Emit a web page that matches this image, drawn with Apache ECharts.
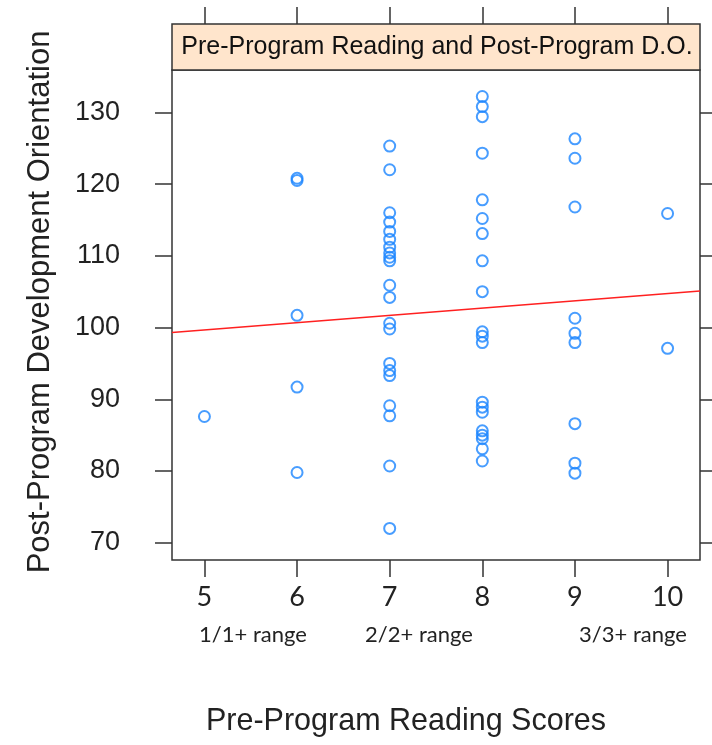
<!DOCTYPE html>
<html><head><meta charset="utf-8">
<script src="https://cdn.jsdelivr.net/npm/echarts@6/dist/echarts.min.js"></script>
<style>html,body{margin:0;padding:0;background:#fff}#c{width:712px;height:745px}</style>
</head><body><div id="c"></div>
<script>
// ---- data ----
const xTicks = [5, 6, 7, 8, 9, 10];
const yTicks = [70, 80, 90, 100, 110, 120, 130];
const preScores = [5, 6, 7, 8, 9, 10];
const post5 = [87.6];
const post6 = [120.5, 120.8, 101.7, 91.7, 79.8];
const post7 = [125.3, 122.0, 116.0, 114.7, 113.4, 112.3, 111.2, 110.4, 109.8, 109.3, 105.9, 104.2, 100.6, 99.8, 95.0, 94.0, 93.3, 89.1, 87.7, 80.7, 72.0];
const post8 = [132.2, 130.8, 129.4, 124.3, 117.8, 115.2, 113.1, 109.3, 105.0, 99.4, 98.8, 97.9, 89.6, 88.9, 88.2, 85.6, 85.0, 84.5, 83.1, 81.4];
const post9 = [126.3, 123.6, 116.8, 101.3, 99.2, 97.9, 86.6, 81.1, 79.7];
const post10 = [115.9, 97.1];
const fitX = [4.65, 10.35];
const fitY = [99.3, 105.1];
const rangeLabels = ['1/1+ range', '2/2+ range', '3/3+ range'];
const stripTitle = 'Pre-Program Reading and Post-Program D.O.';
const xTitle = 'Pre-Program Reading Scores';
const yTitle = 'Post-Program Development Orientation';

const groups = [post5, post6, post7, post8, post9, post10];
const points = [];
groups.forEach((g, i) => g.forEach(v => points.push([preScores[i], v])));
const fitLine = fitX.map((x, i) => [x, fitY[i]]);

const AX = '#333';
const chart = echarts.init(document.getElementById('c'), null, {renderer: 'canvas'});
chart.setOption({
  animation: false,
  backgroundColor: '#fff',
  grid: {left: 172, right: 12, top: 70, bottom: 185, show: true, borderColor: AX, borderWidth: 1.5, backgroundColor: 'transparent'},
  xAxis: [{
    type: 'value', min: 4.65, max: 10.35, position: 'bottom',
    axisLine: {show: false},
    axisTick: {show: true, customValues: xTicks, length: 17, lineStyle: {color: AX, width: 1.5}},
    axisLabel: {show: true, customValues: xTicks, margin: 24, fontSize: 27, fontFamily: 'Lato', color: '#222'},
    splitLine: {show: false}
  }, {
    type: 'value', min: 4.65, max: 10.35, position: 'top', offset: 46,
    axisLine: {show: false},
    axisTick: {show: true, customValues: xTicks, length: 17, lineStyle: {color: AX, width: 1.5}},
    axisLabel: {show: false},
    splitLine: {show: false}
  }],
  yAxis: [{
    type: 'value', min: 67.6, max: 135.9, position: 'left',
    axisLine: {show: false},
    axisTick: {show: true, customValues: yTicks, length: 17, lineStyle: {color: AX, width: 1.5}},
    axisLabel: {show: true, customValues: yTicks, margin: 52, fontSize: 27, fontFamily: 'Liberation Sans', color: '#222'},
    splitLine: {show: false}
  }, {
    type: 'value', min: 67.6, max: 135.9, position: 'right',
    axisLine: {show: false},
    axisTick: {show: true, customValues: yTicks, length: 12, lineStyle: {color: AX, width: 1.5}},
    axisLabel: {show: false},
    splitLine: {show: false}
  }],
  series: [{
    type: 'line', data: fitLine, showSymbol: false, symbol: 'none',
    lineStyle: {color: '#ff2020', width: 1.6}, z: 2
  }, {
    type: 'scatter', data: points, symbol: 'circle', symbolSize: 11,
    itemStyle: {color: 'rgba(0,0,0,0)', borderColor: '#1a85ff', borderWidth: 2}, z: 3
  }],
  graphic: [
    {type: 'rect', shape: {x: 172, y: 24, width: 528, height: 46}, style: {fill: '#ffe5cc', stroke: AX, lineWidth: 1.5}, z: 10},
    {type: 'text', x: 437, y: 47, style: {text: stripTitle, font: '25px "Liberation Sans"', fill: '#111', align: 'center', verticalAlign: 'middle'}, z: 11},
    {type: 'text', x: 406, y: 722, style: {text: xTitle, font: '30.5px "Liberation Sans"', fill: '#222', align: 'center', verticalAlign: 'middle'}, z: 11},
    {type: 'text', x: 40, y: 302, rotation: Math.PI / 2, style: {text: yTitle, font: '31px "Liberation Sans"', fill: '#222', align: 'center', verticalAlign: 'middle'}, z: 11},
    {type: 'text', x: 253, y: 635, style: {text: rangeLabels[0], font: '22px Lato', fill: '#222', align: 'center', verticalAlign: 'middle'}, z: 11},
    {type: 'text', x: 419, y: 635, style: {text: rangeLabels[1], font: '22px Lato', fill: '#222', align: 'center', verticalAlign: 'middle'}, z: 11},
    {type: 'text', x: 633, y: 635, style: {text: rangeLabels[2], font: '22px Lato', fill: '#222', align: 'center', verticalAlign: 'middle'}, z: 11}
  ]
});
</script>
</body></html>
